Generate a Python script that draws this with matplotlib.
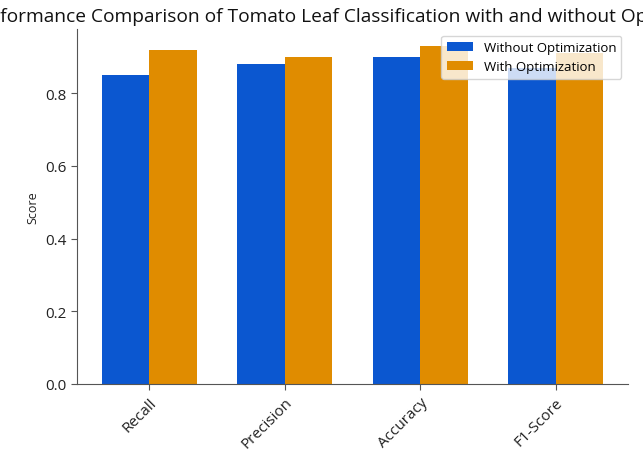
import matplotlib
matplotlib.use("Agg")
import matplotlib.pyplot as plt
import numpy as np

categories = ["Recall", "Precision", "Accuracy", "F1-Score"]
without_opt = [0.85, 0.88, 0.90, 0.87]
with_opt = [0.92, 0.90, 0.93, 0.91]
series_labels = ["Without Optimization", "With Optimization"]
title = "Performance Comparison of Tomato Leaf Classification with and without Optimization"

plt.rcParams['font.family'] = ['Open Sans', 'DejaVu Sans']

fig = plt.figure(figsize=(6.43, 4.56), dpi=100)
ax = fig.add_axes([77/643, 1-385/456, (628-77)/643, (385-30)/456])

x = np.arange(len(categories))
w = 0.35
ax.bar(x - w/2, without_opt, w, color="#0b57d0", label=series_labels[0])
ax.bar(x + w/2, with_opt, w, color="#e08c00", label=series_labels[1])

ax.set_xticks(x)
ax.set_xticklabels(categories, rotation=45, ha="right", rotation_mode="anchor", fontsize=11, color="#222222")
ax.tick_params(axis='both', color="#555555", length=4)
ax.tick_params(axis='y', labelsize=11, labelcolor="#222222")
ax.set_ylabel("Score", fontsize=9, color="#222222")
ax.set_title(title, fontsize=13.8, color="#111111", pad=6)
for s in ["top", "right"]:
    ax.spines[s].set_visible(False)
for s in ["left", "bottom"]:
    ax.spines[s].set_color("#555555")
ax.legend(loc="upper right", fontsize=9.5)

fig.savefig("out.png", dpi=100)
